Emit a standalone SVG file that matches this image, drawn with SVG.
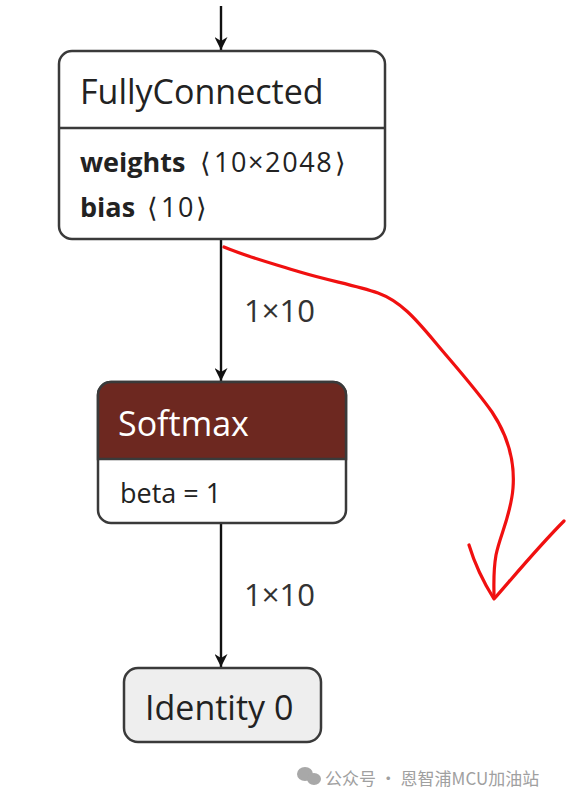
<svg xmlns="http://www.w3.org/2000/svg" width="582" height="793" viewBox="0 0 582 793">
<style>
.box{fill:#fff;stroke:#3a3a3a;stroke-width:2.5}
.t{font-family:"Open Sans","Noto Sans","DejaVu Sans",sans-serif;fill:#222}
.title{font-size:34px}
.attr{font-size:27px}
.num{letter-spacing:1.6px}
.lbl{font-family:"Open Sans","Noto Sans",sans-serif;font-size:31px;fill:#333}
.edge{stroke:#111;stroke-width:2.4;fill:none;marker-end:url(#ah)}
</style>
<defs>
<marker id="ah" viewBox="0 0 10 10" refX="10" refY="5" markerWidth="15" markerHeight="13" markerUnits="userSpaceOnUse" orient="auto">
<path d="M0,0 L10,5 L0,10 L3,5 z" fill="#111"/>
</marker>
</defs>
<rect width="582" height="793" fill="#fff"/>
<g id="connectors">
<line class="edge" x1="221" y1="6" x2="221" y2="50"/>
<line class="edge" x1="221" y1="240" x2="221" y2="381"/>
<line class="edge" x1="221" y1="524" x2="221" y2="667"/>
<text class="lbl" x="244" y="322">1×10</text>
<text class="lbl" x="244" y="606">1×10</text>
</g>
<g id="fullyconnected">
<rect class="box" x="59" y="51" width="326" height="188" rx="13"/>
<line x1="59" y1="128" x2="385" y2="128" stroke="#3a3a3a" stroke-width="2.5"/>
<text class="t title" x="80" y="104">FullyConnected</text>
<text class="t attr" y="172"><tspan x="80" font-weight="bold">weights</tspan> <tspan x="200">⟨</tspan><tspan x="214" class="num">10×2048</tspan><tspan x="335">⟩</tspan></text>
<text class="t attr" y="217"><tspan x="80" font-weight="bold">bias</tspan> <tspan x="147">⟨</tspan><tspan x="161" class="num">10</tspan><tspan x="196">⟩</tspan></text>
</g>
<g id="softmax">
<rect class="box" x="98" y="382" width="248" height="141" rx="13"/>
<path d="M98,459 V395 a13,13 0 0 1 13,-13 H333 a13,13 0 0 1 13,13 V459 Z" fill="#6d2820" stroke="#3a3a3a" stroke-width="2.5"/>
<text class="t title" x="118" y="436" style="fill:#fff">Softmax</text>
<text class="t attr" x="120" y="503">beta = 1</text>
</g>
<g id="identity">
<rect x="124" y="668" width="197" height="74" rx="14" fill="#eeeeee" stroke="#3a3a3a" stroke-width="2.5"/>
<text class="t title" x="145" y="720">Identity 0</text>
</g>
<g id="annotation" fill="none" stroke="#f01010" stroke-width="3.2" stroke-linecap="round" stroke-linejoin="round">
<path d="M224,247 C250,258 275,264 300,272 C330,281 355,285 378,293 C400,301 415,318 435,342 C455,366 475,388 492,412 C508,436 515,462 513,488 C511,515 500,535 496,555 C493,572 494,585 494,597"/>
<path d="M469,545 C475,565 484,583 494,599 C515,575 540,545 564,521"/>
</g>
<g id="watermark">
<g fill="#a8a8a8">
<ellipse cx="305" cy="774" rx="8" ry="7"/>
<ellipse cx="314" cy="779" rx="7" ry="6"/>
</g>
<text x="325" y="785" font-family="'Noto Sans CJK SC','Noto Sans',sans-serif" font-size="17" fill="#a0a0a0">公众号 · 恩智浦MCU加油站</text>
</g>
</svg>
